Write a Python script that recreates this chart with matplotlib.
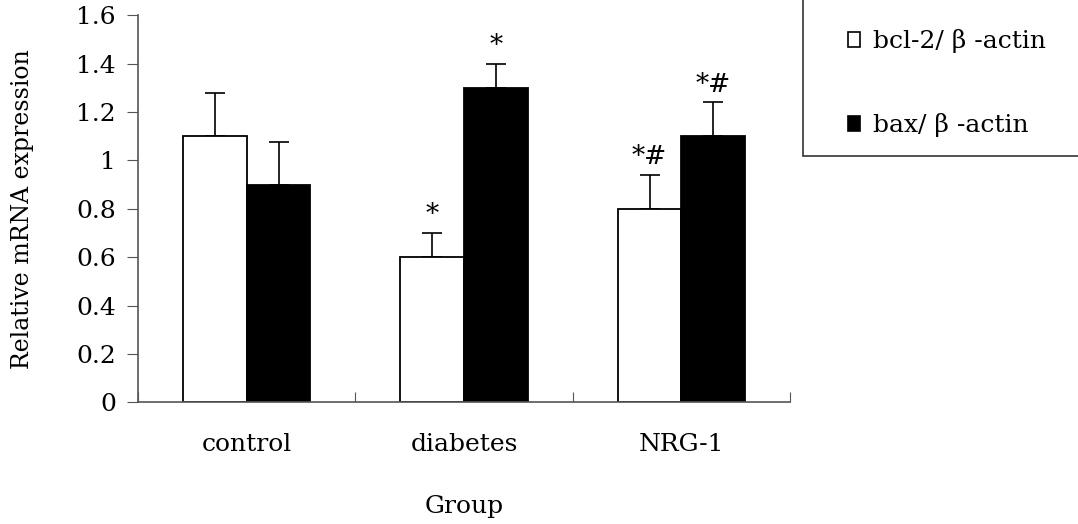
import numpy as np
import matplotlib
matplotlib.use("Agg")
import matplotlib.pyplot as plt
from matplotlib.patches import Patch, Rectangle

plt.rcParams['font.family'] = ['DejaVu Serif']

groups = ["control", "diabetes", "NRG-1"]
bcl2 = [1.1, 0.6, 0.8]
bcl2_err = [0.18, 0.10, 0.14]
bax = [0.9, 1.3, 1.1]
bax_err = [0.175, 0.10, 0.14]
bcl2_marks = ["", "*", "*#"]
bax_marks = ["", "*", "*#"]
yticks = [0, 0.2, 0.4, 0.6, 0.8, 1, 1.2, 1.4, 1.6]
ytick_labels = ["0", "0.2", "0.4", "0.6", "0.8", "1", "1.2", "1.4", "1.6"]

fs = 18

fig = plt.figure(figsize=(10.78, 5.24), dpi=100)
ax = fig.add_axes([0.128, 0.232, 0.605, 0.739])

x = np.arange(len(groups)) + 0.5
w = 0.293
ax.bar(x - w / 2, bcl2, w, color='white', edgecolor='black', linewidth=1.3, zorder=2)
ax.bar(x + w / 2, bax, w, color='black', edgecolor='black', linewidth=1.3, zorder=2)
ax.errorbar(x - w / 2, bcl2, yerr=[np.zeros(3), bcl2_err], fmt='none', ecolor='black',
            elinewidth=1.2, capsize=7, capthick=1.2, zorder=1)
ax.errorbar(x + w / 2, bax, yerr=[np.zeros(3), bax_err], fmt='none', ecolor='black',
            elinewidth=1.2, capsize=7, capthick=1.2, zorder=1)

for xi, v, e, m in zip(x - w / 2, bcl2, bcl2_err, bcl2_marks):
    if m:
        ax.annotate(m, (xi, v + e), xytext=(0, 4), textcoords='offset points',
                    ha='center', va='bottom', fontsize=19)
for xi, v, e, m in zip(x + w / 2, bax, bax_err, bax_marks):
    if m:
        ax.annotate(m, (xi, v + e), xytext=(0, 4), textcoords='offset points',
                    ha='center', va='bottom', fontsize=19)

ax.set_xlim(0, 3)
ax.set_ylim(0, 1.6)
ax.set_yticks(yticks)
ax.set_yticklabels(ytick_labels, fontsize=fs)
ax.set_xticks([0, 1, 2, 3])
ax.set_xticklabels([])
ax.set_xticks(x, minor=True)
ax.set_xticklabels(groups, minor=True, fontsize=fs)
ax.tick_params(axis='x', which='major', direction='in', length=7, color='#555555')
ax.tick_params(axis='x', which='minor', length=0, pad=22)
ax.tick_params(axis='y', direction='out', length=8, color='#555555', pad=8)
for s in ['top', 'right']:
    ax.spines[s].set_visible(False)
for s in ['left', 'bottom']:
    ax.spines[s].set_color('#555555')
    ax.spines[s].set_linewidth(1.2)

ax.set_ylabel("Relative mRNA expression", fontsize=17, labelpad=30)
ax.set_xlabel("Group", fontsize=fs, labelpad=28)

fig.patches.append(Rectangle((0.745, 0.702), 0.3, 0.35, transform=fig.transFigure,
                             facecolor='white', edgecolor='#333333', linewidth=1.2,
                             clip_on=False))
handles = [Patch(facecolor='white', edgecolor='black', linewidth=1.2),
           Patch(facecolor='black', edgecolor='black', linewidth=1.2)]
fig.legend(handles, ["bcl-2/ β -actin", "bax/ β -actin"], loc='upper left',
           bbox_to_anchor=(0.777, 0.963), frameon=False, fontsize=fs,
           handlelength=0.5, handleheight=0.5, handletextpad=0.5,
           labelspacing=2.4, borderaxespad=0)

fig.savefig("out.png", dpi=100)
